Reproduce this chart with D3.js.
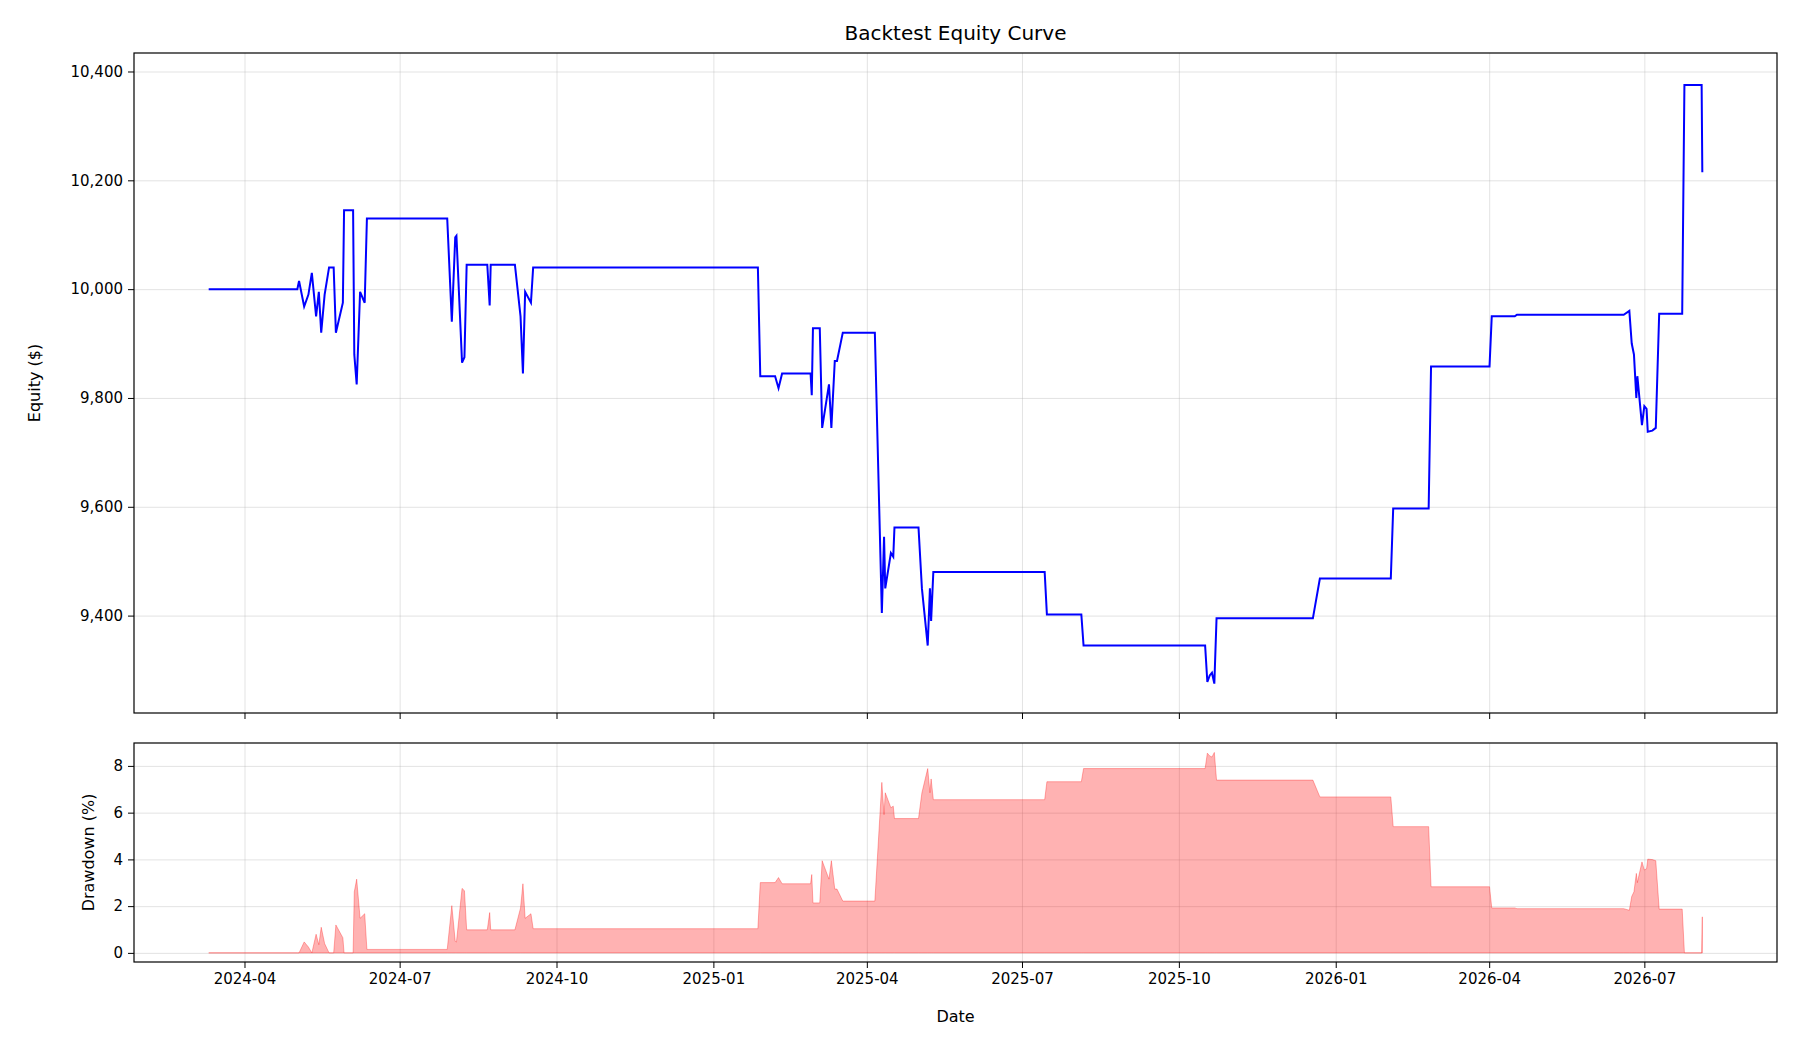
<!DOCTYPE html>
<html><head><meta charset="utf-8">
<script src="https://cdn.jsdelivr.net/npm/d3@7"></script>
<style>
body{margin:0;background:#fff;font-family:"DejaVu Sans",sans-serif;}
.grid line{stroke:#b0b0b0;stroke-opacity:.35;}
.grid path{display:none;}
.ax text{font-size:15px;fill:#000;font-family:"DejaVu Sans",sans-serif;}
.ax path,.ax line{stroke:#000;}
</style></head>
<body><svg id="c" width="1800" height="1050"></svg>
<script>
const startDate = "2024-03-11";
// [days since start, equity $]
const equity = [
[0,10000],[52,10000],[53,10015],[56,9968],[58.5,9990],[60.5,10030],[63,9950],[64.6,9995],[66,9920],[68,9990],
[70.6,10040],[73.3,10040],[74.6,9920],[78.7,9975],[79.4,10145],[84.7,10145],[85.4,9880],[86.8,9825],[88.8,9995],
[91.5,9975],[92.8,10130],[139.9,10130],[142.6,9940],[144.6,10095],[145.3,10098],[148.6,9865],[150,9875],[151.3,10045],
[163.4,10045],[164.8,9970],[165.4,10045],[179.6,10045],[182.9,9950],[184.3,9845],[185.6,9995],[189,9975],[190.3,10040],
[322.1,10040],[323.5,9840],[332.2,9840],[334.2,9818],[336.3,9845],[353,9845],[353.7,9805],[354.4,9928],[358.4,9928],
[359.8,9745],[363.8,9825],[365.2,9745],[367.2,9868],[368.5,9868],[371.9,9920],[390.7,9920],[394.8,9405],[396.1,9545],
[396.8,9450],[400.1,9515],[401.5,9508],[402.2,9562],[416.3,9562],[418.3,9450],[421.7,9345],[423,9450],[423.7,9390],
[425,9480],[490.3,9480],[491.6,9402],[511.8,9402],[513.1,9345],[584.4,9345],[585.7,9278],[587.1,9290],[588.4,9295],
[589.8,9275],[591.1,9395],[647.6,9395],[651.7,9468],[693.3,9468],[694.7,9597],[715.5,9597],[716.9,9858],[751.2,9858],
[752.5,9950],[766,9950],[767.3,9953],[829.9,9953],[833.2,9960],[834.6,9900],[835.9,9880],[837.3,9800],[837.9,9840],
[840.6,9750],[842,9785],[843.3,9780],[844,9738],[846.7,9740],[848.7,9745],[850.7,9955],[864.2,9955],[865.5,10375],
[875.6,10375],[876,10215]
];
const yTicksTop = [9400,9600,9800,10000,10200,10400];
const yTicksBot = [0,2,4,6,8];

const t0 = new Date(startDate+"T00:00:00");
const pts = equity.map(([d,v])=>({date:new Date(t0.getTime()+d*864e5), v}));
let peak = -Infinity;
pts.forEach(p=>{peak=Math.max(peak,p.v); p.dd=(peak-p.v)/peak*100;});

const svg = d3.select("#c");
const L=134,R=1777,T1=53,B1=713,T2=743,B2=962;
const span = pts[pts.length-1].date - pts[0].date;
const x = d3.scaleTime().domain([new Date(+pts[0].date-span*0.05), new Date(+pts[pts.length-1].date+span*0.05)]).range([L,R]);
const y1 = d3.scaleLinear().domain([9221,10434]).range([B1,T1]);
const y2 = d3.scaleLinear().domain([-0.39,8.98]).range([B2,T2]);
const xt = [];
for(let m=new Date(2024,3,1); m<=new Date(2026,6,1); m=new Date(m.getFullYear(),m.getMonth()+3,1)) xt.push(m);
const fmt = d3.timeFormat("%Y-%m");

function panel(y,T,B,ticks,showX){
  svg.append("g").attr("class","grid").attr("transform",`translate(0,${B})`).call(d3.axisBottom(x).tickValues(xt).tickSize(-(B-T)).tickFormat(""));
  svg.append("g").attr("class","grid").attr("transform",`translate(${L},0)`).call(d3.axisLeft(y).tickValues(ticks).tickSize(-(R-L)).tickFormat(""));
}
function frame(y,T,B,ticks,showX){
  svg.append("rect").attr("x",L).attr("y",T).attr("width",R-L).attr("height",B-T).attr("fill","none").attr("stroke","#000").attr("stroke-width",1.2);
  svg.append("g").attr("class","ax").attr("transform",`translate(0,${B})`).call(d3.axisBottom(x).tickValues(xt).tickSize(6).tickPadding(5).tickFormat(showX?fmt:"")).select(".domain").remove();
  svg.append("g").attr("class","ax").attr("transform",`translate(${L},0)`).call(d3.axisLeft(y).tickValues(ticks).tickSize(6).tickPadding(5)).select(".domain").remove();
}
panel(y1,T1,B1,yTicksTop);
panel(y2,T2,B2,yTicksBot);

svg.append("path").datum(pts).attr("fill","none").attr("stroke","#0000ff").attr("stroke-width",2)
  .attr("d",d3.line().x(d=>x(d.date)).y(d=>y1(d.v)));
svg.append("path").datum(pts).attr("fill","#ff0000").attr("fill-opacity",0.3).attr("stroke","#ff0000").attr("stroke-opacity",0.3)
  .attr("d",d3.area().x(d=>x(d.date)).y0(y2(0)).y1(d=>y2(d.dd)));

frame(y1,T1,B1,yTicksTop,false);
frame(y2,T2,B2,yTicksBot,true);

svg.append("text").attr("x",(L+R)/2).attr("y",40).attr("text-anchor","middle").attr("font-size",20).text("Backtest Equity Curve");
svg.append("text").attr("x",(L+R)/2).attr("y",1022).attr("text-anchor","middle").attr("font-size",16).text("Date");
svg.append("text").attr("transform",`translate(40,${(T1+B1)/2}) rotate(-90)`).attr("text-anchor","middle").attr("font-size",16).text("Equity ($)");
svg.append("text").attr("transform",`translate(94,${(T2+B2)/2}) rotate(-90)`).attr("text-anchor","middle").attr("font-size",16).text("Drawdown (%)");
</script></body></html>
